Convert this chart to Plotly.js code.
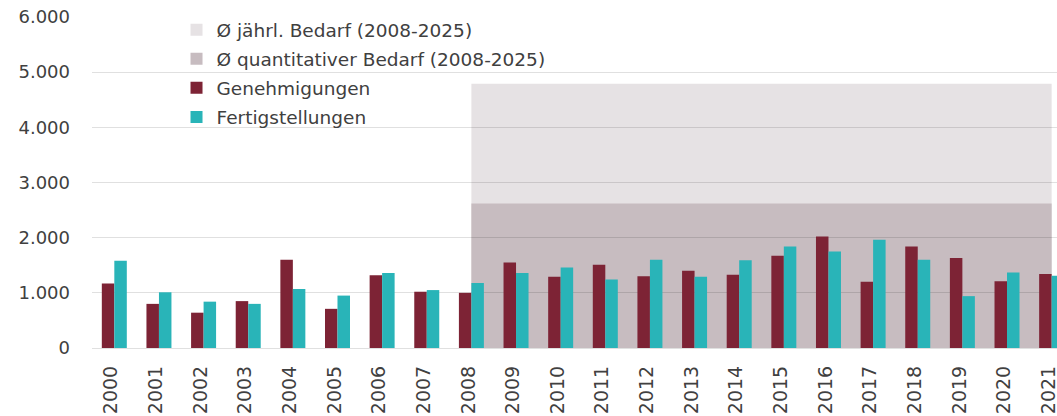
<!DOCTYPE html>
<html>
<head>
<meta charset="utf-8">
<script src="https://cdn.plot.ly/plotly-3.0.1.min.js"></script>
<style>
  html, body { margin: 0; padding: 0; background: #ffffff; }
  #chart { width: 1057px; height: 416px; }
</style>
</head>
<body>
<div id="chart"></div>
<script>
// ---- data ----
const years = [2000, 2001, 2002, 2003, 2004, 2005, 2006, 2007, 2008, 2009, 2010,
               2011, 2012, 2013, 2014, 2015, 2016, 2017, 2018, 2019, 2020, 2021];
const genehmigungen = [1170, 800, 640, 850, 1600, 710, 1320, 1020, 1000, 1550, 1290,
                       1510, 1300, 1400, 1330, 1670, 2020, 1200, 1840, 1630, 1210, 1340];
const fertigstellungen = [1580, 1010, 840, 800, 1070, 950, 1360, 1050, 1180, 1360, 1460,
                          1240, 1600, 1290, 1590, 1840, 1750, 1960, 1600, 940, 1370, 1310];
const bedarfJaehrlich = 4790;      // Ø jährl. Bedarf (2008-2025)
const bedarfQuantitativ = 2620;    // Ø quantitativer Bedarf (2008-2025)
const bedarfStart = 2008;
const bedarfEndVisible = 2021;
const yTickVals = [0, 1000, 2000, 3000, 4000, 5000, 6000];
const yTickText = ["0", "1.000", "2.000", "3.000", "4.000", "5.000", "6.000"];
const seriesNames = ["Genehmigungen", "Fertigstellungen"];
const bedarfNames = ["Ø jährl. Bedarf (2008-2025)", "Ø quantitativer Bedarf (2008-2025)"];

// ---- style ----
const cMaroon = "#7d2335";
const cTeal = "#29b4b8";
const cLight = "#e6e2e4";
const cDark = "#c7bcc0";
const textColor = "#404040";
const FONT = "DejaVu Sans, Liberation Sans, sans-serif";

const traces = [
  {
    type: "bar", name: seriesNames[0], x: years, y: genehmigungen,
    marker: { color: cMaroon }, legendrank: 3, legendgroup: "g3",
    hoverinfo: "x+y"
  },
  {
    type: "bar", name: seriesNames[1], x: years, y: fertigstellungen,
    marker: { color: cTeal }, legendrank: 4, legendgroup: "g4",
    hoverinfo: "x+y"
  }
];

const layout = {
  width: 1057, height: 416,
  margin: { l: 92, r: 0, t: 17, b: 68, pad: 0, autoexpand: false },
  paper_bgcolor: "#ffffff", plot_bgcolor: "rgba(0,0,0,0)",
  font: { family: FONT, color: textColor },
  barmode: "group", bargap: 0.44, bargroupgap: 0,
  showlegend: true,
  legend: {
    xref: "container", yref: "container",
    x: 0.167, y: 0.973, xanchor: "left", yanchor: "top",
    font: { family: FONT, size: 18.5, color: textColor },
    bgcolor: "rgba(0,0,0,0)", borderwidth: 0,
    traceorder: "grouped", tracegroupgap: 2
  },
  xaxis: {
    type: "linear", range: [1999.5, 2021.12],
    tickvals: years, ticktext: years.map(String),
    tickangle: -90, ticks: "", showgrid: false, zeroline: false, showline: false,
    tickfont: { family: FONT, size: 19, color: textColor },
    ticklabelshift: -3, ticklabelstandoff: 13, ticklabeloverflow: "allow",
    fixedrange: true
  },
  yaxis: {
    range: [0, 6000], tickvals: yTickVals, ticktext: yTickText,
    ticks: "", showgrid: true, gridcolor: "rgba(0,0,0,0.12)", gridwidth: 1,
    zeroline: true, zerolinecolor: "rgba(0,0,0,0.12)", zerolinewidth: 1,
    showline: false,
    tickfont: { family: FONT, size: 18, color: textColor },
    ticklabelstandoff: 21, fixedrange: true
  },
  shapes: [
    {
      type: "rect", xref: "x", yref: "y", layer: "below",
      x0: bedarfStart, x1: bedarfEndVisible, y0: 0, y1: bedarfJaehrlich,
      fillcolor: cLight, line: { width: 0 },
      showlegend: true, name: bedarfNames[0], legendrank: 1, legendgroup: "g1"
    },
    {
      type: "rect", xref: "x", yref: "y", layer: "below",
      x0: bedarfStart, x1: bedarfEndVisible, y0: 0, y1: bedarfQuantitativ,
      fillcolor: cDark, line: { width: 0 },
      showlegend: true, name: bedarfNames[1], legendrank: 2, legendgroup: "g2"
    }
  ]
};

Plotly.newPlot("chart", traces, layout, { displayModeBar: false, staticPlot: true });
</script>
</body>
</html>
